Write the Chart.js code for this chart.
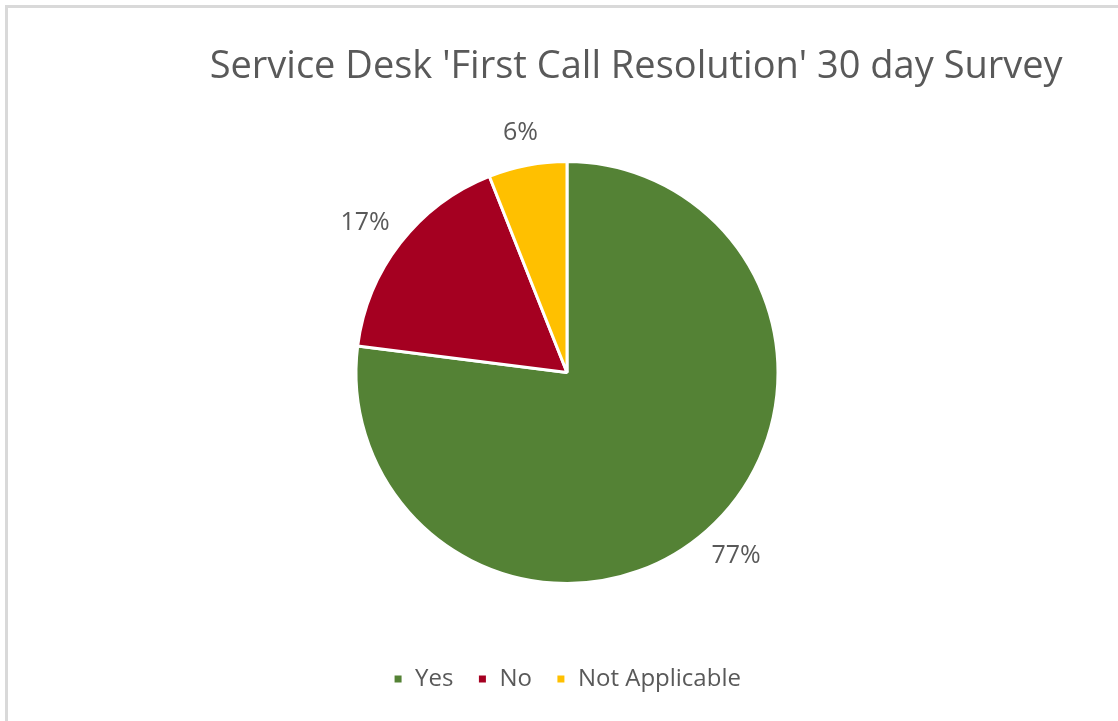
<!DOCTYPE html>
<html>
<head>
<meta charset="utf-8">
<title>Service Desk 'First Call Resolution' 30 day Survey</title>
<script src="https://cdn.jsdelivr.net/npm/chart.js@4/dist/chart.umd.min.js"></script>
<style>
  html, body { margin: 0; padding: 0; background: #fff; overflow: hidden; }
  #frame {
    position: absolute; left: 5px; top: 5px;
    width: 1300px; height: 900px;
    border-left: 3px solid #d9d9d9; border-top: 3px solid #d9d9d9;
  }
  #wrap { position: absolute; left: 0; top: 0; width: 1118px; height: 721px; }
</style>
</head>
<body>
<div id="frame"></div>
<div id="wrap"><canvas id="myChart"></canvas></div>
<script>
'use strict';
const chartTitle = 'Service Desk \'First Call Resolution\' 30 day Survey';
const answers = ['Yes', 'No', 'Not Applicable'];
const shares = [77, 17, 6];
const sliceColors = ['#548235', '#a50021', '#ffc000'];
const textColor = '#595959';

// title sits right of the pie centre, so it is drawn here instead of the title plugin
const titlePlugin = {
  id: 'surveyTitle',
  afterDraw(chart) {
    const ctx = chart.ctx;
    ctx.save();
    ctx.font = '38px "Open Sans"';
    ctx.fillStyle = textColor;
    ctx.textAlign = 'center';
    ctx.textBaseline = 'middle';
    ctx.fillText(chartTitle, chart.width * 0.569, 67);
    ctx.restore();
  }
};

// percentage labels just outside each slice
const outsideLabels = {
  id: 'outsideLabels',
  afterDatasetsDraw(chart) {
    const ctx = chart.ctx;
    const meta = chart.getDatasetMeta(0);
    ctx.save();
    ctx.font = '25px "Open Sans"';
    ctx.fillStyle = textColor;
    ctx.textAlign = 'center';
    ctx.textBaseline = 'middle';
    meta.data.forEach(function(arc, i) {
      const p = arc.getProps(['x', 'y', 'startAngle', 'endAngle', 'outerRadius'], true);
      const mid = (p.startAngle + p.endAngle) / 2;
      const dx = Math.cos(mid);
      const dy = Math.sin(mid);
      const text = shares[i] + '%';
      const w = ctx.measureText(text).width;
      const dist = p.outerRadius + 20;
      const lx = p.x + dx * dist + dx * w / 2;
      const ly = p.y + dy * dist + dy * 13;
      ctx.fillText(text, lx, ly);
    });
    ctx.restore();
  }
};

let ctx = document.getElementById('myChart').getContext('2d');
let chart = new Chart(ctx, {
  type: 'pie',
  data: {
    labels: answers,
    datasets: [{
      data: shares,
      backgroundColor: sliceColors,
      borderColor: '#ffffff',
      borderWidth: 3,
      radius: 211
    }]
  },
  options: {
    responsive: true,
    maintainAspectRatio: false,
    animation: false,
    layout: {
      padding: { top: 102, bottom: 20, left: 16, right: 0 }
    },
    plugins: {
      title: { display: false },
      tooltip: { enabled: false },
      legend: {
        position: 'bottom',
        labels: {
          usePointStyle: true,
          pointStyle: 'rect',
          boxWidth: 10,
          boxHeight: 10,
          padding: 24,
          color: textColor,
          font: { family: 'Open Sans', size: 24 }
        }
      }
    }
  },
  plugins: [titlePlugin, outsideLabels]
});
</script>
</body>
</html>
